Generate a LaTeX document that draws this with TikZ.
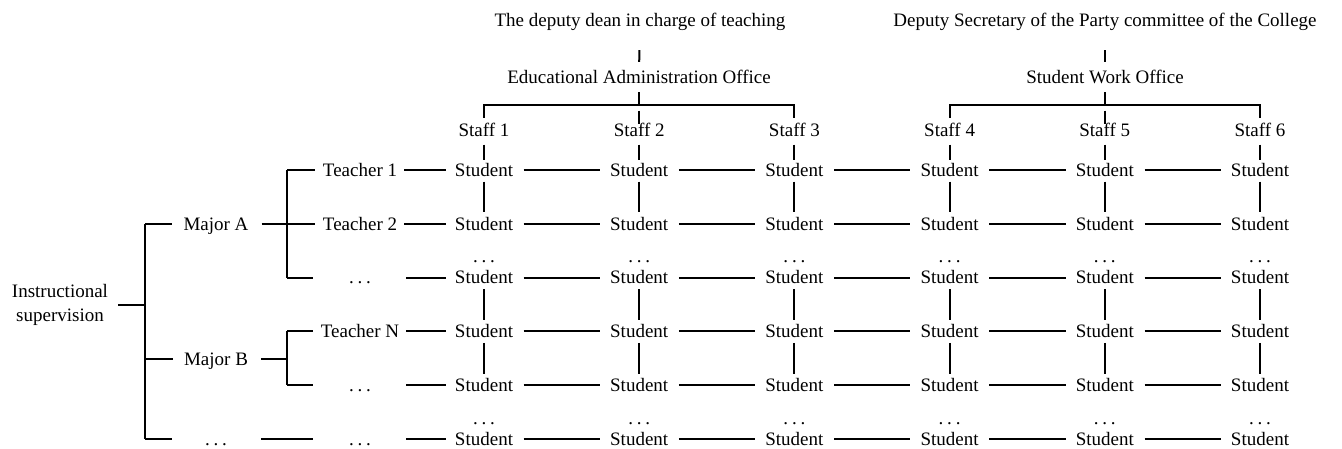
\documentclass[tikz,border=0pt]{standalone}
\usepackage{fontspec}
\setmainfont{Liberation Serif}
\newcommand{\myfs}{\fontsize{19}{24}\selectfont}
\newcommand{\dts}{.\hspace{0.2em}.\hspace{0.2em}.}
\begin{document}
\begin{tikzpicture}[x=1pt,y=-1pt,
  lbl/.style={inner sep=0pt, font=\myfs, text height=12.6pt, text depth=0pt, anchor=center},
  conn/.style={line width=2pt}]
\useasboundingbox (0,0) rectangle (1342,448);

% top hierarchy
\node[lbl] (dean1) at (640,20) {The deputy dean in charge of teaching};
\node[lbl] (dean2) at (1105,20) {Deputy Secretary of the Party committee of the College};
\node[lbl] (eao) at (639,77) {Educational Administration Office};
\node[lbl] (swo) at (1105,77) {Student Work Office};
\coordinate (eb) at (639,105);
\coordinate (sb) at (1105,105);

% staff
\foreach \c/\x in {1/484,2/639.2,3/794.4,4/949.6,5/1104.8,6/1260}{
  \node[lbl] (st\c) at (\x,130) {Staff \c};
}

% student grid
\foreach \r/\y in {0/170,1/223.8,2/277.6,3/331.4,4/385.2,5/439}{
  \foreach \c/\x in {0/484,1/639.2,2/794.4,3/949.6,4/1104.8,5/1260}{
    \node[lbl] (s-\r-\c) at (\x,\y) {Student};
  }
}
\foreach \c/\x in {0/484,1/639.2,2/794.4,3/949.6,4/1104.8,5/1260}{
  \node[lbl] (ga-\c) at (\x,256.6) {\dts};
  \node[lbl] (gb-\c) at (\x,418) {\dts};
}

% left hierarchy
\node[inner sep=0pt, font=\myfs, align=center] (instr) at (60,305) {Instructional\\supervision};
\node[lbl] (majA) at (216,223.8) {Major A};
\node[lbl] (majB) at (216,359) {Major B};
\node[lbl] (majD) at (216,439) {\dts};
\node[lbl] (t1) at (360,170) {Teacher 1};
\node[lbl] (t2) at (360,223.8) {Teacher 2};
\node[lbl] (t3) at (360,277.6) {\dts};
\node[lbl] (tN) at (360,331.4) {Teacher N};
\node[lbl] (t5) at (360,385.2) {\dts};
\node[lbl] (t6) at (360,439) {\dts};

\coordinate (b1t) at (145,223.8);
\coordinate (b1b) at (145,439);
\coordinate (b2t) at (287,170);
\coordinate (b2b) at (287,277.6);
\coordinate (b3t) at (287,331.4);
\coordinate (b3b) at (287,385.2);

% ---- connectors ----
\draw[conn, shorten <=23.7, shorten >=8.7] (dean1.south) -- (eao.north);
\draw[conn, shorten <=23.7, shorten >=8.7] (dean2.south) -- (swo.north);
\draw[conn, shorten <=8.7] (eao.south) -- (eb);
\draw[conn, shorten <=8.7] (swo.south) -- (sb);
\draw[conn, shorten <=5.7, shorten >=5.7] (st1.north) |- (eb) -| (st3.north);
\draw[conn, shorten >=5.7] (sb) -| (st4.north);
\draw[conn, shorten >=5.7] (sb) -| (st6.north);
\draw[conn, shorten <=5.7] (st2.north |- eb) -- (st2.north);
\draw[conn, shorten <=5.7] (st5.north |- sb) -- (st5.north);

\foreach \c/\k in {1/0,2/1,3/2,4/3,5/4,6/5}{
  \draw[conn, shorten <=8, shorten >=4] (st\c.south) -- (s-0-\k.north);
}
\foreach \k in {0,...,5}{
  \draw[conn, shorten <=5, shorten >=5] (s-0-\k.south) -- (s-1-\k.north);
  \draw[conn, shorten <=5, shorten >=5] (s-2-\k.south) -- (s-3-\k.north);
  \draw[conn, shorten <=5, shorten >=5] (s-3-\k.south) -- (s-4-\k.north);
}
\foreach \r in {0,...,5}{
  \foreach \k [evaluate=\k as \n using int(\k+1)] in {0,...,4}{
    \draw[conn, shorten <=10.5, shorten >=10] (s-\r-\k.east) -- (s-\r-\n.west);
  }
}
% teacher level to students
\draw[conn, shorten <=7, shorten >=9] (t1.east) -- (s-0-0.west);
\draw[conn, shorten <=7, shorten >=9] (t2.east) -- (s-1-0.west);
\draw[conn, shorten >=9] (s-2-0.west -| 406,0) -- (s-2-0.west);
\draw[conn, shorten <=7, shorten >=9] (tN.east) -- (s-3-0.west);
\draw[conn, shorten >=9] (s-4-0.west -| 406,0) -- (s-4-0.west);
\draw[conn, shorten >=9] (s-5-0.west -| 406,0) -- (s-5-0.west);

% brackets
\draw[conn] (b1t) -- (b1b);
\draw[conn, shorten <=10] (instr.east) -- (instr.east -| b1t);
\draw[conn, shorten >=11] (b1t) -- (majA.west);
\draw[conn, shorten >=11] (majB.west -| b1t) -- (majB.west);
\draw[conn] (b1b) -- (172,439);
\draw[conn] (b2t) -- (b2b);
\draw[conn] (b3t) -- (b3b);
\draw[conn, shorten <=13] (majA.east) -- (majA.east -| b2t);
\draw[conn, shorten <=13] (majB.east) -- (majB.east -| b3t);
\draw[conn, shorten >=8] (b2t) -- (t1.west);
\draw[conn, shorten >=8] (t2.west -| b2t) -- (t2.west);
\draw[conn] (b2b) -- (313,277.6);
\draw[conn, shorten >=8] (b3t) -- (tN.west);
\draw[conn] (b3b) -- (313,385.2);
\draw[conn] (261,439) -- (313,439);
\end{tikzpicture}
\end{document}
